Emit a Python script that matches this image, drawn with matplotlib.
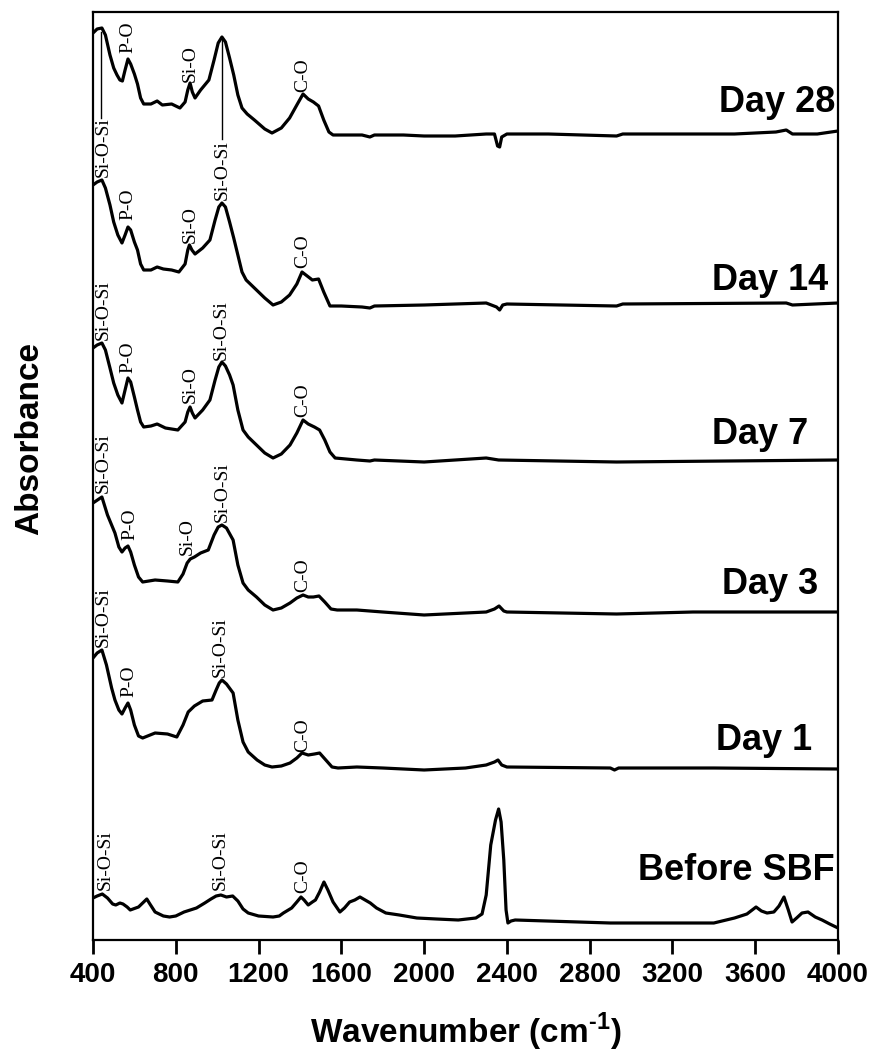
import matplotlib
matplotlib.use('Agg')
import matplotlib.pyplot as plt

plt.rcParams['mathtext.fontset'] = 'custom'
plt.rcParams['mathtext.rm'] = 'Liberation Sans:bold'
plt.rcParams['mathtext.bf'] = 'Liberation Sans:bold'

# wavenumbers (cm-1) and stacked absorbance (offset, a.u.)
wn_d28 = [400, 420, 443, 460, 482, 500, 516, 530, 542, 555, 569, 582, 600, 615, 630, 645, 680, 710, 735, 780,
          820, 845, 858, 869, 880, 893, 920, 960, 985, 1005, 1023, 1040, 1060, 1080, 1100, 1120, 1145, 1180,
          1230, 1265, 1310, 1350, 1385, 1415, 1440, 1465, 1490, 1515, 1540, 1560, 1650, 1700, 1738, 1760,
          1900, 2000, 2150, 2300, 2340, 2355, 2365, 2375, 2400, 2600, 2930, 2960, 3200, 3500, 3700, 3750,
          3780, 3900, 4000]
ab_d28 = [907, 911, 912, 905, 885, 872, 865, 860, 859, 870, 881, 876, 866, 856, 842, 836, 836, 839, 835, 836,
          832, 838, 850, 857, 848, 842, 850, 860, 880, 897, 903, 898, 882, 865, 845, 832, 826, 820,
          811, 807, 812, 822, 835, 846, 841, 838, 834, 820, 808, 805, 805, 805, 803, 805,
          805, 804, 804, 806, 806, 794, 793, 803, 806, 806, 804, 806, 806, 806, 808, 810,
          806, 806, 809]

wn_d14 = [400, 420, 443, 460, 482, 500, 520, 540, 555, 569, 582, 600, 615, 630, 645, 680, 710, 740, 780, 815,
          845, 858, 866, 878, 893, 930, 965, 990, 1008, 1023, 1040, 1060, 1080, 1100, 1120, 1140, 1180, 1230,
          1270, 1310, 1350, 1385, 1410, 1435, 1460, 1490, 1515, 1545, 1600, 1700, 1738, 1760, 2000, 2300,
          2350, 2365, 2380, 2400, 2930, 2960, 3750, 3780, 4000]
ab_d14 = [755, 758, 760, 752, 735, 718, 705, 697, 705, 713, 710, 698, 690, 676, 670, 670, 673, 671, 670, 668,
          676, 690, 695, 690, 686, 692, 700, 720, 733, 737, 733, 718, 702, 685, 668, 660, 652, 642,
          635, 638, 645, 656, 668, 664, 660, 661, 648, 634, 634, 633, 632, 634, 635, 637,
          633, 630, 635, 636, 634, 636, 637, 635, 637]

wn_d7 = [400, 420, 443, 460, 482, 500, 520, 540, 555, 569, 582, 600, 615, 630, 645, 680, 710, 750, 810, 845,
         858, 869, 880, 893, 930, 965, 990, 1008, 1023, 1040, 1060, 1077, 1100, 1125, 1150, 1190, 1230, 1270,
         1310, 1352, 1385, 1415, 1440, 1470, 1495, 1520, 1545, 1570, 1675, 1738, 1760, 2000, 2300, 2360,
         2930, 4000]
ab_d7 = [592, 595, 597, 590, 572, 557, 545, 537, 550, 562, 558, 543, 530, 518, 513, 514, 516, 512, 510, 518,
         528, 533, 527, 522, 530, 540, 560, 573, 578, 574, 565, 555, 530, 510, 503, 495, 487, 482,
         486, 495, 507, 520, 516, 513, 510, 500, 488, 482, 480, 479, 480, 478, 482, 480,
         478, 480]

wn_d3 = [400, 443, 470, 506, 525, 540, 555, 569, 582, 600, 620, 640, 700, 760, 810, 835, 855, 870, 890, 920,
         957, 985, 1005, 1023, 1045, 1077, 1100, 1125, 1150, 1190, 1230, 1270, 1310, 1352, 1385, 1415, 1440,
         1465, 1492, 1520, 1550, 1580, 1675, 1800, 2000, 2200, 2300, 2340, 2362, 2385, 2400, 2930, 3300, 4000]
ab_d3 = [437, 443, 425, 407, 393, 388, 392, 394, 388, 375, 363, 358, 360, 359, 358, 366, 377, 381, 383, 387,
         390, 405, 413, 415, 412, 400, 375, 357, 350, 343, 335, 330, 332, 337, 342, 345, 343,
         343, 344, 338, 331, 330, 330, 328, 325, 327, 328, 331, 334, 329, 328, 326, 328, 328]

wn_d1 = [400, 420, 443, 465, 490, 506, 525, 540, 555, 569, 582, 600, 620, 640, 700, 760, 805, 835, 860, 890,
         930, 975, 995, 1010, 1023, 1045, 1077, 1100, 1125, 1150, 1193, 1230, 1265, 1310, 1352, 1385, 1410,
         1440, 1470, 1495, 1525, 1555, 1584, 1675, 1800, 2000, 2200, 2300, 2340, 2357, 2375, 2400, 2900,
         2920, 2940, 3400, 4000]
ab_d1 = [282, 287, 290, 275, 252, 240, 230, 226, 232, 237, 230, 215, 204, 202, 207, 206, 203, 215, 228, 234,
         239, 240, 250, 257, 260, 256, 247, 220, 198, 188, 180, 175, 173, 174, 177, 182, 187,
         185, 186, 187, 180, 173, 172, 173, 172, 170, 172, 175, 178, 180, 175, 173, 172,
         170, 172, 172, 171]

wn_pre = [400, 420, 445, 470, 495, 510, 530, 545, 565, 580, 620, 645, 660, 675, 700, 740, 770, 800, 840, 870,
          900, 940, 970, 995, 1018, 1045, 1075, 1100, 1125, 1150, 1200, 1270, 1300, 1320, 1360, 1385, 1405,
          1420, 1440, 1460, 1475, 1495, 1516, 1535, 1560, 1593, 1615, 1640, 1665, 1690, 1715, 1740, 1770,
          1815, 1880, 1965, 2060, 2165, 2250, 2280, 2300, 2322, 2345, 2360, 2372, 2385, 2396, 2405, 2420,
          2440, 2900, 3400, 3500, 3560, 3604, 3630, 3657, 3690, 3715, 3739, 3760, 3778, 3800, 3826, 3855,
          3890, 3923, 3960, 4000]
ab_pre = [42, 44, 46, 42, 36, 35, 37, 36, 33, 30, 33, 38, 41, 36, 28, 24, 23, 24, 28, 30,
          32, 37, 41, 44, 45, 43, 44, 39, 31, 27, 24, 23, 24, 27, 32, 38, 43,
          40, 35, 38, 40, 48, 58, 50, 38, 28, 32, 38, 40, 43, 40, 37, 32,
          27, 25, 22, 21, 20, 22, 26, 45, 95, 120, 131, 118, 80, 30, 17, 19,
          20, 17, 17, 22, 26, 33, 29, 27, 28, 34, 43, 30, 18, 22, 27, 28,
          23, 20, 16, 12]

spectra = [(wn_d28, ab_d28), (wn_d14, ab_d14), (wn_d7, ab_d7), (wn_d3, ab_d3), (wn_d1, ab_d1), (wn_pre, ab_pre)]

day_names = ['Day 28', 'Day 14', 'Day 7', 'Day 3', 'Day 1', 'Before SBF']
day_x = [3986, 3951, 3855, 3903, 3875, 3986]
day_y = [837, 660, 505, 355, 200, 70]

# peak assignments: (label, wavenumber, level of text start)
peaks = [('P-O', 569, 887), ('Si-O', 869, 858), ('C-O', 1415, 848),
         ('Si-O-Si', 448, 763), ('Si-O-Si', 1023, 740), ('P-O', 569, 720), ('Si-O', 869, 697), ('C-O', 1415, 672),
         ('Si-O-Si', 448, 600), ('Si-O-Si', 1018, 580), ('P-O', 569, 567), ('Si-O', 869, 537), ('C-O', 1415, 523),
         ('Si-O-Si', 448, 447), ('Si-O-Si', 1023, 418), ('P-O', 579, 400), ('Si-O', 854, 385), ('C-O', 1415, 348),
         ('Si-O-Si', 448, 293), ('Si-O-Si', 1014, 263), ('P-O', 574, 243), ('C-O', 1415, 188),
         ('Si-O-Si', 458, 50), ('Si-O-Si', 1014, 50), ('C-O', 1415, 47)]

# guide lines from Day 28 peaks down to labels
guides = [(440, 908, 822), (1023, 900, 801)]

fig = plt.figure(figsize=(8.76, 10.51), dpi=100)
ax = fig.add_axes([93/876, 111/1051, 745/876, 928/1051])

for wn, ab in spectra:
    ax.plot(wn, ab, color='black', lw=2.3, solid_joinstyle='round', solid_capstyle='round')

for x, y0, y1 in guides:
    ax.plot([x, x], [y1, y0], color='black', lw=1.0)

for lab, x, y in peaks:
    ax.text(x, y, lab, rotation=90, ha='center', va='bottom', fontsize=14,
            family='Liberation Serif')

for name, x, y in zip(day_names, day_x, day_y):
    ax.text(x, y, name, ha='right', va='center', fontsize=26, fontweight='bold',
            family='Liberation Sans')

ax.set_xlim(400, 4000)
ax.set_ylim(0, 928)
ax.set_xticks(range(400, 4001, 400))
ax.set_yticks([])
ax.tick_params(axis='x', direction='out', length=10, width=2, pad=6)
for t in ax.get_xticklabels():
    t.set_fontsize(20)
    t.set_fontweight('bold')
    t.set_family('Liberation Sans')
for s in ax.spines.values():
    s.set_linewidth(1.6)

ax.set_xlabel('Wavenumber (cm$^{\\text{-}1}$)', fontsize=24, fontweight='bold', family='Liberation Sans', labelpad=16)
ax.set_ylabel('Absorbance', fontsize=24, fontweight='bold', family='Liberation Sans')
ax.yaxis.set_label_coords(-0.064, 0.54)

fig.savefig('out.png', dpi=100)
